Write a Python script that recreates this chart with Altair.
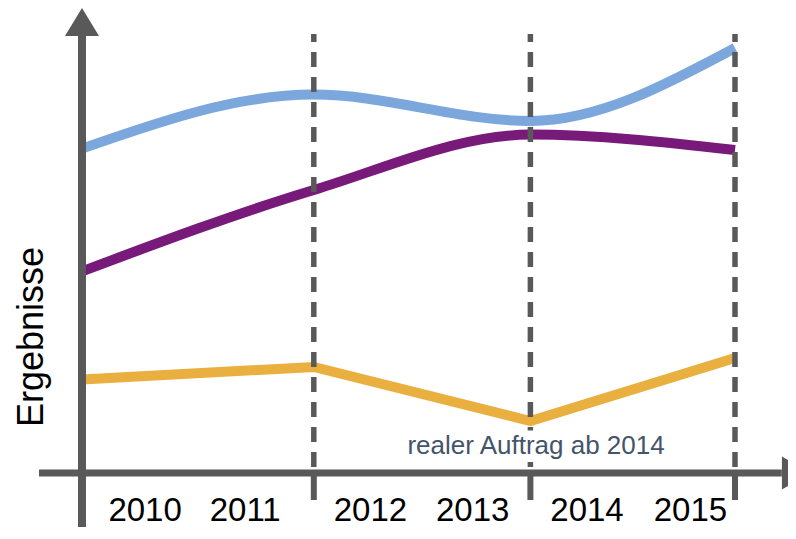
import altair as alt
import pandas as pd

# ---- data ----
point_years = [2009.5, 2011.63, 2013.62, 2015.5]   # line vertices (axis start + dashed boundaries)
blue_vals = [81.1, 94.6, 88.0, 106.25]
purple_vals = [50.4, 70.75, 84.6, 80.75]
yellow_vals = [23.4, 26.5, 13.0, 28.75]

dash_years = [2011.63, 2013.62, 2015.5]
dash_top = 109.75
tick_bottom = -6.75

year_labels = ["2010", "2011", "2012", "2013", "2014", "2015"]
year_label_pos = [2010.08, 2011.00, 2012.15, 2013.09, 2014.14, 2015.09]
year_label_y = -12.0

ylabel_text = "Ergebnisse"
ylabel_pos = (2009.14, 34.0)
note_text = "realer Auftrag ab 2014"
note_pos = (2012.49, 4.75)
note_box = (2012.45, 2014.90, 2.75, 10.6)   # x, x2, y, y2 of the white text box

axis_x_start, axis_x_end = 2009.105, 2015.93
axis_y_top = 109.25
arrow_up_pos = (2009.5, 112.75)
arrow_right_pos = (2016.06, 0.0)

GRAY = "#595959"
BLUE = "#7BA7DC"
PURPLE = "#781A7A"
YELLOW = "#E9B03F"
NOTE = "#44546A"

Y_MIN, Y_MAX = -13.5, 116.25
xs = alt.Scale(domain=[2008.8201, 2015.987], nice=False, zero=False)
ys = alt.Scale(domain=[Y_MIN, Y_MAX], nice=False, zero=False)


def X(field="x"):
    return alt.X(f"{field}:Q", scale=xs, axis=None)


def Y(field="y"):
    return alt.Y(f"{field}:Q", scale=ys, axis=None)


def series(vals, color, interp):
    df = pd.DataFrame({"x": point_years, "y": vals})
    return alt.Chart(df).mark_line(
        color=color, strokeWidth=10, strokeCap="butt", interpolate=interp
    ).encode(x=X(), y=Y())


blue = series(blue_vals, BLUE, "monotone")
purple = series(purple_vals, PURPLE, "monotone")
yellow = series(yellow_vals, YELLOW, "linear")

dash_df = pd.DataFrame({"x": dash_years, "y": [dash_top] * 3, "y2": [0.0] * 3,
                        "yb": [tick_bottom] * 3})
dashes = alt.Chart(dash_df).mark_rule(
    color=GRAY, strokeWidth=5.5, strokeDash=[15, 10], strokeDashOffset=7
).encode(x=X(), y=Y(), y2="y2:Q")
ticks = alt.Chart(dash_df).mark_rule(color=GRAY, strokeWidth=6).encode(
    x=X(), y=Y("y2"), y2="yb:Q"
)

box_df = pd.DataFrame({"x": [note_box[0]], "x2": [note_box[1]],
                       "y": [note_box[2]], "y2": [note_box[3]]})
note_bg = alt.Chart(box_df).mark_rect(color="#FFFFFF", opacity=1).encode(
    x=X(), x2="x2:Q", y=Y(), y2="y2:Q"
)

xaxis_df = pd.DataFrame({"x": [axis_x_start], "x2": [axis_x_end], "y": [0.0]})
xaxis = alt.Chart(xaxis_df).mark_rule(color=GRAY, strokeWidth=7).encode(
    x=X(), x2="x2:Q", y=Y()
)
yaxis_df = pd.DataFrame({"x": [point_years[0]], "y": [axis_y_top], "y2": [Y_MIN]})
yaxis = alt.Chart(yaxis_df).mark_rule(color=GRAY, strokeWidth=8).encode(
    x=X(), y=Y(), y2="y2:Q"
)

up_df = pd.DataFrame({"x": [arrow_up_pos[0]], "y": [arrow_up_pos[1]]})
arrow_up = alt.Chart(up_df).mark_point(
    shape="M0,-0.8235L1,0.8235L-1,0.8235Z", filled=True, fill=GRAY, opacity=1,
    size=1156, strokeWidth=0
).encode(x=X(), y=Y())
right_df = pd.DataFrame({"x": [arrow_right_pos[0]], "y": [arrow_right_pos[1]]})
arrow_right = alt.Chart(right_df).mark_point(
    shape="M-0.85,-1L0.85,0L-0.85,1Z", filled=True, fill=GRAY, opacity=1,
    size=1089, strokeWidth=0
).encode(x=X(), y=Y())

lab_df = pd.DataFrame({"x": year_label_pos, "y": [year_label_y] * 6, "t": year_labels})
year_text = alt.Chart(lab_df).mark_text(
    font="Liberation Sans", fontSize=33, color="#000000", align="center",
    baseline="alphabetic"
).encode(x=X(), y=Y(), text="t:N")

yl_df = pd.DataFrame({"x": [ylabel_pos[0]], "y": [ylabel_pos[1]], "t": [ylabel_text]})
ylabel = alt.Chart(yl_df).mark_text(
    font="Liberation Sans", fontSize=36, color="#000000", align="center",
    baseline="alphabetic", angle=270
).encode(x=X(), y=Y(), text="t:N")

note_df = pd.DataFrame({"x": [note_pos[0]], "y": [note_pos[1]], "t": [note_text]})
note = alt.Chart(note_df).mark_text(
    font="Liberation Sans", fontSize=26, color=NOTE, align="left",
    baseline="alphabetic"
).encode(x=X(), y=Y(), text="t:N")

chart = alt.layer(
    blue, purple, yellow, dashes, ticks, note_bg, xaxis, yaxis, arrow_up,
    arrow_right, year_text, ylabel, note
).properties(
    width=780, height=519, padding=0, autosize="none"
).configure_view(stroke=None)

chart.save("out.html", embed_options={"renderer": "svg", "actions": False})
